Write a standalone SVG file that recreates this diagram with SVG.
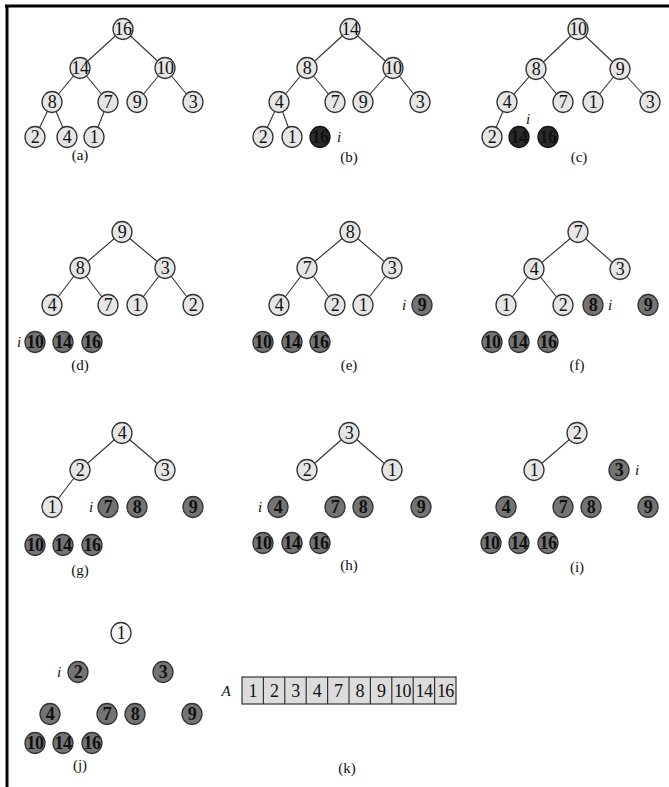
<svg xmlns="http://www.w3.org/2000/svg" width="669" height="787" viewBox="0 0 669 787">
<style>
.lt{fill:#e6e6e6;stroke:#333;stroke-width:1.3}
.wh{fill:#f7f7f7;stroke:#333;stroke-width:1.3}
.dk{fill:#2a2a2a;stroke:#111;stroke-width:1.3}
.md{fill:#747474;stroke:#333;stroke-width:1.3}
text{font-family:"Liberation Serif","Times New Roman",serif;fill:#111;text-anchor:middle}
.n{font-size:18px;letter-spacing:-0.6px}
.b{font-weight:bold}
.lab{font-size:15px}
.it{font-style:italic;font-size:15px}
#connectors line{stroke:#333;stroke-width:1.1}
.cell{fill:#dcdcdc;stroke:#333;stroke-width:1.2}
</style>
<rect width="669" height="787" fill="#fff"/>
<g id="frame" stroke="#000" stroke-width="3">
<line x1="5" y1="6" x2="669" y2="6"/>
<line x1="7" y1="5" x2="7" y2="787"/>
</g>
<g id="connectors">
<line x1="123" y1="29" x2="80" y2="68"/><line x1="123" y1="29" x2="165" y2="68"/>
<line x1="80" y1="68" x2="52" y2="102"/><line x1="80" y1="68" x2="108" y2="102"/>
<line x1="165" y1="68" x2="137" y2="102"/><line x1="165" y1="68" x2="193" y2="102"/>
<line x1="52" y1="102" x2="35" y2="137"/><line x1="52" y1="102" x2="67" y2="137"/>
<line x1="108" y1="102" x2="94" y2="137"/>
<line x1="350" y1="29" x2="307" y2="68"/><line x1="350" y1="29" x2="393" y2="68"/>
<line x1="307" y1="68" x2="279" y2="102"/><line x1="307" y1="68" x2="335" y2="102"/>
<line x1="393" y1="68" x2="363" y2="102"/><line x1="393" y1="68" x2="420" y2="102"/>
<line x1="279" y1="102" x2="263" y2="137"/><line x1="279" y1="102" x2="292" y2="137"/>
<line x1="578" y1="29" x2="536" y2="69"/><line x1="578" y1="29" x2="620" y2="69"/>
<line x1="536" y1="69" x2="507" y2="102"/><line x1="536" y1="69" x2="563" y2="102"/>
<line x1="620" y1="69" x2="593" y2="102"/><line x1="620" y1="69" x2="650" y2="102"/>
<line x1="507" y1="102" x2="492" y2="137"/>
<line x1="122" y1="232" x2="80" y2="268"/><line x1="122" y1="232" x2="165" y2="268"/>
<line x1="80" y1="268" x2="52" y2="305"/><line x1="80" y1="268" x2="108" y2="305"/>
<line x1="165" y1="268" x2="137" y2="305"/><line x1="165" y1="268" x2="193" y2="305"/>
<line x1="350" y1="232" x2="307" y2="268"/><line x1="350" y1="232" x2="392" y2="268"/>
<line x1="307" y1="268" x2="279" y2="305"/><line x1="307" y1="268" x2="335" y2="305"/>
<line x1="392" y1="268" x2="363" y2="305"/>
<line x1="578" y1="232" x2="534" y2="269"/><line x1="578" y1="232" x2="620" y2="269"/>
<line x1="534" y1="269" x2="506" y2="305"/><line x1="534" y1="269" x2="563" y2="305"/>
<line x1="122" y1="433" x2="80" y2="470"/><line x1="122" y1="433" x2="165" y2="470"/>
<line x1="80" y1="470" x2="52" y2="507"/>
<line x1="349" y1="433" x2="307" y2="470"/><line x1="349" y1="433" x2="392" y2="470"/>
<line x1="577" y1="433" x2="534" y2="470"/>
</g>

<g id="a-16"><ellipse cx="123" cy="29" rx="10" ry="10.5" class="lt"/><text class="n" x="123" y="35">16</text></g>
<g id="a-14"><ellipse cx="80" cy="68" rx="10" ry="10.5" class="lt"/><text class="n" x="80" y="74">14</text></g>
<g id="a-10"><ellipse cx="165" cy="68" rx="10" ry="10.5" class="lt"/><text class="n" x="165" y="74">10</text></g>
<g id="a-8"><ellipse cx="52" cy="102" rx="10" ry="10.5" class="lt"/><text class="n" x="52" y="108">8</text></g>
<g id="a-7"><ellipse cx="108" cy="102" rx="10" ry="10.5" class="lt"/><text class="n" x="108" y="108">7</text></g>
<g id="a-9"><ellipse cx="137" cy="102" rx="10" ry="10.5" class="lt"/><text class="n" x="137" y="108">9</text></g>
<g id="a-3"><ellipse cx="193" cy="102" rx="10" ry="10.5" class="lt"/><text class="n" x="193" y="108">3</text></g>
<g id="a-2"><ellipse cx="35" cy="137" rx="10" ry="10.5" class="lt"/><text class="n" x="35" y="143">2</text></g>
<g id="a-4"><ellipse cx="67" cy="137" rx="10" ry="10.5" class="lt"/><text class="n" x="67" y="143">4</text></g>
<g id="a-1"><ellipse cx="94" cy="137" rx="10" ry="10.5" class="lt"/><text class="n" x="94" y="143">1</text></g>
<text class="lab" x="80" y="160">(a)</text>

<g id="b-14"><ellipse cx="350" cy="29" rx="10" ry="10.5" class="lt"/><text class="n" x="350" y="35">14</text></g>
<g id="b-8"><ellipse cx="307" cy="68" rx="10" ry="10.5" class="lt"/><text class="n" x="307" y="74">8</text></g>
<g id="b-10"><ellipse cx="393" cy="68" rx="10" ry="10.5" class="lt"/><text class="n" x="393" y="74">10</text></g>
<g id="b-4"><ellipse cx="279" cy="102" rx="10" ry="10.5" class="lt"/><text class="n" x="279" y="108">4</text></g>
<g id="b-7"><ellipse cx="335" cy="102" rx="10" ry="10.5" class="lt"/><text class="n" x="335" y="108">7</text></g>
<g id="b-9"><ellipse cx="363" cy="102" rx="10" ry="10.5" class="lt"/><text class="n" x="363" y="108">9</text></g>
<g id="b-3"><ellipse cx="420" cy="102" rx="10" ry="10.5" class="lt"/><text class="n" x="420" y="108">3</text></g>
<g id="b-2"><ellipse cx="263" cy="137" rx="10" ry="10.5" class="lt"/><text class="n" x="263" y="143">2</text></g>
<g id="b-1"><ellipse cx="292" cy="137" rx="10" ry="10.5" class="lt"/><text class="n" x="292" y="143">1</text></g>
<g id="b-16"><ellipse cx="320" cy="137" rx="10" ry="10.5" class="dk"/><text class="n b" x="320" y="143">16</text></g>
<text class="it" x="339" y="142">i</text>
<text class="lab" x="349" y="162">(b)</text>

<g id="c-10"><ellipse cx="578" cy="29" rx="10" ry="10.5" class="lt"/><text class="n" x="578" y="35">10</text></g>
<g id="c-8"><ellipse cx="536" cy="69" rx="10" ry="10.5" class="lt"/><text class="n" x="536" y="75">8</text></g>
<g id="c-9"><ellipse cx="620" cy="69" rx="10" ry="10.5" class="lt"/><text class="n" x="620" y="75">9</text></g>
<g id="c-4"><ellipse cx="507" cy="102" rx="10" ry="10.5" class="lt"/><text class="n" x="507" y="108">4</text></g>
<g id="c-7"><ellipse cx="563" cy="102" rx="10" ry="10.5" class="lt"/><text class="n" x="563" y="108">7</text></g>
<g id="c-1"><ellipse cx="593" cy="102" rx="10" ry="10.5" class="lt"/><text class="n" x="593" y="108">1</text></g>
<g id="c-3"><ellipse cx="650" cy="102" rx="10" ry="10.5" class="lt"/><text class="n" x="650" y="108">3</text></g>
<g id="c-2"><ellipse cx="492" cy="137" rx="10" ry="10.5" class="lt"/><text class="n" x="492" y="143">2</text></g>
<g id="c-14"><ellipse cx="519" cy="137" rx="10" ry="10.5" class="dk"/><text class="n b" x="519" y="143">14</text></g>
<g id="c-16"><ellipse cx="548" cy="137" rx="10" ry="10.5" class="dk"/><text class="n b" x="548" y="143">16</text></g>
<text class="it" x="528" y="124">i</text>
<text class="lab" x="579" y="162">(c)</text>

<g id="d-9"><ellipse cx="122" cy="232" rx="10" ry="10.5" class="lt"/><text class="n" x="122" y="238">9</text></g>
<g id="d-8"><ellipse cx="80" cy="268" rx="10" ry="10.5" class="lt"/><text class="n" x="80" y="274">8</text></g>
<g id="d-3"><ellipse cx="165" cy="268" rx="10" ry="10.5" class="lt"/><text class="n" x="165" y="274">3</text></g>
<g id="d-4"><ellipse cx="52" cy="305" rx="10" ry="10.5" class="lt"/><text class="n" x="52" y="311">4</text></g>
<g id="d-7"><ellipse cx="108" cy="305" rx="10" ry="10.5" class="lt"/><text class="n" x="108" y="311">7</text></g>
<g id="d-1"><ellipse cx="137" cy="305" rx="10" ry="10.5" class="lt"/><text class="n" x="137" y="311">1</text></g>
<g id="d-2"><ellipse cx="193" cy="305" rx="10" ry="10.5" class="lt"/><text class="n" x="193" y="311">2</text></g>
<text class="it" x="19" y="347">i</text>
<g id="d-10"><ellipse cx="35" cy="342" rx="10" ry="10.5" class="md"/><text class="n b" x="35" y="348">10</text></g>
<g id="d-14"><ellipse cx="63" cy="342" rx="10" ry="10.5" class="md"/><text class="n b" x="63" y="348">14</text></g>
<g id="d-16"><ellipse cx="92" cy="342" rx="10" ry="10.5" class="md"/><text class="n b" x="92" y="348">16</text></g>
<text class="lab" x="80" y="370">(d)</text>

<g id="e-8"><ellipse cx="350" cy="232" rx="10" ry="10.5" class="lt"/><text class="n" x="350" y="238">8</text></g>
<g id="e-7"><ellipse cx="307" cy="268" rx="10" ry="10.5" class="lt"/><text class="n" x="307" y="274">7</text></g>
<g id="e-3"><ellipse cx="392" cy="268" rx="10" ry="10.5" class="lt"/><text class="n" x="392" y="274">3</text></g>
<g id="e-4"><ellipse cx="279" cy="305" rx="10" ry="10.5" class="lt"/><text class="n" x="279" y="311">4</text></g>
<g id="e-2"><ellipse cx="335" cy="305" rx="10" ry="10.5" class="lt"/><text class="n" x="335" y="311">2</text></g>
<g id="e-1"><ellipse cx="363" cy="305" rx="10" ry="10.5" class="lt"/><text class="n" x="363" y="311">1</text></g>
<text class="it" x="404" y="310">i</text>
<g id="e-9"><ellipse cx="422" cy="305" rx="10" ry="10.5" class="md"/><text class="n b" x="422" y="311">9</text></g>
<g id="e-10"><ellipse cx="263" cy="342" rx="10" ry="10.5" class="md"/><text class="n b" x="263" y="348">10</text></g>
<g id="e-14"><ellipse cx="292" cy="342" rx="10" ry="10.5" class="md"/><text class="n b" x="292" y="348">14</text></g>
<g id="e-16"><ellipse cx="320" cy="342" rx="10" ry="10.5" class="md"/><text class="n b" x="320" y="348">16</text></g>
<text class="lab" x="349" y="370">(e)</text>

<g id="f-7"><ellipse cx="578" cy="232" rx="10" ry="10.5" class="lt"/><text class="n" x="578" y="238">7</text></g>
<g id="f-4"><ellipse cx="534" cy="269" rx="10" ry="10.5" class="lt"/><text class="n" x="534" y="275">4</text></g>
<g id="f-3"><ellipse cx="620" cy="269" rx="10" ry="10.5" class="lt"/><text class="n" x="620" y="275">3</text></g>
<g id="f-1"><ellipse cx="506" cy="305" rx="10" ry="10.5" class="lt"/><text class="n" x="506" y="311">1</text></g>
<g id="f-2"><ellipse cx="563" cy="305" rx="10" ry="10.5" class="lt"/><text class="n" x="563" y="311">2</text></g>
<g id="f-8"><ellipse cx="593" cy="305" rx="10" ry="10.5" class="md"/><text class="n b" x="593" y="311">8</text></g>
<text class="it" x="610" y="310">i</text>
<g id="f-9"><ellipse cx="648" cy="305" rx="10" ry="10.5" class="md"/><text class="n b" x="648" y="311">9</text></g>
<g id="f-10"><ellipse cx="492" cy="342" rx="10" ry="10.5" class="md"/><text class="n b" x="492" y="348">10</text></g>
<g id="f-14"><ellipse cx="519" cy="342" rx="10" ry="10.5" class="md"/><text class="n b" x="519" y="348">14</text></g>
<g id="f-16"><ellipse cx="548" cy="342" rx="10" ry="10.5" class="md"/><text class="n b" x="548" y="348">16</text></g>
<text class="lab" x="577" y="370">(f)</text>

<g id="g-4"><ellipse cx="122" cy="433" rx="10" ry="10.5" class="lt"/><text class="n" x="122" y="439">4</text></g>
<g id="g-2"><ellipse cx="80" cy="470" rx="10" ry="10.5" class="lt"/><text class="n" x="80" y="476">2</text></g>
<g id="g-3"><ellipse cx="165" cy="470" rx="10" ry="10.5" class="lt"/><text class="n" x="165" y="476">3</text></g>
<g id="g-1"><ellipse cx="52" cy="507" rx="10" ry="10.5" class="lt"/><text class="n" x="52" y="513">1</text></g>
<text class="it" x="91" y="512">i</text>
<g id="g-7"><ellipse cx="108" cy="507" rx="10" ry="10.5" class="md"/><text class="n b" x="108" y="513">7</text></g>
<g id="g-8"><ellipse cx="137" cy="507" rx="10" ry="10.5" class="md"/><text class="n b" x="137" y="513">8</text></g>
<g id="g-9"><ellipse cx="193" cy="507" rx="10" ry="10.5" class="md"/><text class="n b" x="193" y="513">9</text></g>
<g id="g-10"><ellipse cx="35" cy="545" rx="10" ry="10.5" class="md"/><text class="n b" x="35" y="551">10</text></g>
<g id="g-14"><ellipse cx="63" cy="545" rx="10" ry="10.5" class="md"/><text class="n b" x="63" y="551">14</text></g>
<g id="g-16"><ellipse cx="92" cy="545" rx="10" ry="10.5" class="md"/><text class="n b" x="92" y="551">16</text></g>
<text class="lab" x="80" y="575">(g)</text>

<g id="h-3"><ellipse cx="349" cy="433" rx="10" ry="10.5" class="lt"/><text class="n" x="349" y="439">3</text></g>
<g id="h-2"><ellipse cx="307" cy="470" rx="10" ry="10.5" class="lt"/><text class="n" x="307" y="476">2</text></g>
<g id="h-1"><ellipse cx="392" cy="470" rx="10" ry="10.5" class="lt"/><text class="n" x="392" y="476">1</text></g>
<text class="it" x="260" y="512">i</text>
<g id="h-4"><ellipse cx="278" cy="507" rx="10" ry="10.5" class="md"/><text class="n b" x="278" y="513">4</text></g>
<g id="h-7"><ellipse cx="335" cy="507" rx="10" ry="10.5" class="md"/><text class="n b" x="335" y="513">7</text></g>
<g id="h-8"><ellipse cx="363" cy="507" rx="10" ry="10.5" class="md"/><text class="n b" x="363" y="513">8</text></g>
<g id="h-9"><ellipse cx="421" cy="507" rx="10" ry="10.5" class="md"/><text class="n b" x="421" y="513">9</text></g>
<g id="h-10"><ellipse cx="263" cy="543" rx="10" ry="10.5" class="md"/><text class="n b" x="263" y="549">10</text></g>
<g id="h-14"><ellipse cx="292" cy="543" rx="10" ry="10.5" class="md"/><text class="n b" x="292" y="549">14</text></g>
<g id="h-16"><ellipse cx="320" cy="543" rx="10" ry="10.5" class="md"/><text class="n b" x="320" y="549">16</text></g>
<text class="lab" x="349" y="570">(h)</text>

<g id="i-2"><ellipse cx="577" cy="433" rx="10" ry="10.5" class="lt"/><text class="n" x="577" y="439">2</text></g>
<g id="i-1"><ellipse cx="534" cy="470" rx="10" ry="10.5" class="lt"/><text class="n" x="534" y="476">1</text></g>
<g id="i-3"><ellipse cx="619" cy="470" rx="10" ry="10.5" class="md"/><text class="n b" x="619" y="476">3</text></g>
<text class="it" x="637" y="475">i</text>
<g id="i-4"><ellipse cx="506" cy="507" rx="10" ry="10.5" class="md"/><text class="n b" x="506" y="513">4</text></g>
<g id="i-7"><ellipse cx="563" cy="507" rx="10" ry="10.5" class="md"/><text class="n b" x="563" y="513">7</text></g>
<g id="i-8"><ellipse cx="591" cy="507" rx="10" ry="10.5" class="md"/><text class="n b" x="591" y="513">8</text></g>
<g id="i-9"><ellipse cx="648" cy="507" rx="10" ry="10.5" class="md"/><text class="n b" x="648" y="513">9</text></g>
<g id="i-10"><ellipse cx="491" cy="543" rx="10" ry="10.5" class="md"/><text class="n b" x="491" y="549">10</text></g>
<g id="i-14"><ellipse cx="519" cy="543" rx="10" ry="10.5" class="md"/><text class="n b" x="519" y="549">14</text></g>
<g id="i-16"><ellipse cx="548" cy="543" rx="10" ry="10.5" class="md"/><text class="n b" x="548" y="549">16</text></g>
<text class="lab" x="577" y="572">(i)</text>

<g id="j-1"><ellipse cx="121" cy="633" rx="10" ry="10.5" class="wh"/><text class="n" x="121" y="639">1</text></g>
<text class="it" x="59" y="677">i</text>
<g id="j-2"><ellipse cx="78" cy="672" rx="10" ry="10.5" class="md"/><text class="n b" x="78" y="678">2</text></g>
<g id="j-3"><ellipse cx="163" cy="672" rx="10" ry="10.5" class="md"/><text class="n b" x="163" y="678">3</text></g>
<g id="j-4"><ellipse cx="50" cy="714" rx="10" ry="10.5" class="md"/><text class="n b" x="50" y="720">4</text></g>
<g id="j-7"><ellipse cx="107" cy="714" rx="10" ry="10.5" class="md"/><text class="n b" x="107" y="720">7</text></g>
<g id="j-8"><ellipse cx="135" cy="714" rx="10" ry="10.5" class="md"/><text class="n b" x="135" y="720">8</text></g>
<g id="j-9"><ellipse cx="192" cy="714" rx="10" ry="10.5" class="md"/><text class="n b" x="192" y="720">9</text></g>
<g id="j-10"><ellipse cx="35" cy="743" rx="10" ry="10.5" class="md"/><text class="n b" x="35" y="749">10</text></g>
<g id="j-14"><ellipse cx="63" cy="743" rx="10" ry="10.5" class="md"/><text class="n b" x="63" y="749">14</text></g>
<g id="j-16"><ellipse cx="92" cy="743" rx="10" ry="10.5" class="md"/><text class="n b" x="92" y="749">16</text></g>
<text class="lab" x="80" y="770">(j)</text>

<g id="k-array">
<text class="it" x="226" y="696">A</text>
<rect class="cell" x="242" y="677" width="214" height="27"/>
<g stroke="#333" stroke-width="1.2">
<line x1="263.4" y1="677" x2="263.4" y2="704"/><line x1="284.8" y1="677" x2="284.8" y2="704"/>
<line x1="306.2" y1="677" x2="306.2" y2="704"/><line x1="327.6" y1="677" x2="327.6" y2="704"/>
<line x1="349" y1="677" x2="349" y2="704"/><line x1="370.4" y1="677" x2="370.4" y2="704"/>
<line x1="391.8" y1="677" x2="391.8" y2="704"/><line x1="413.2" y1="677" x2="413.2" y2="704"/>
<line x1="434.6" y1="677" x2="434.6" y2="704"/>
</g>
<g class="n">
<text x="252.7" y="697">1</text><text x="274.1" y="697">2</text><text x="295.5" y="697">3</text>
<text x="316.9" y="697">4</text><text x="338.3" y="697">7</text><text x="359.7" y="697">8</text>
<text x="381.1" y="697">9</text><text x="402.5" y="697">10</text><text x="423.9" y="697">14</text>
<text x="445.3" y="697">16</text>
</g>
</g>
<text class="lab" x="347" y="773">(k)</text>
</svg>
